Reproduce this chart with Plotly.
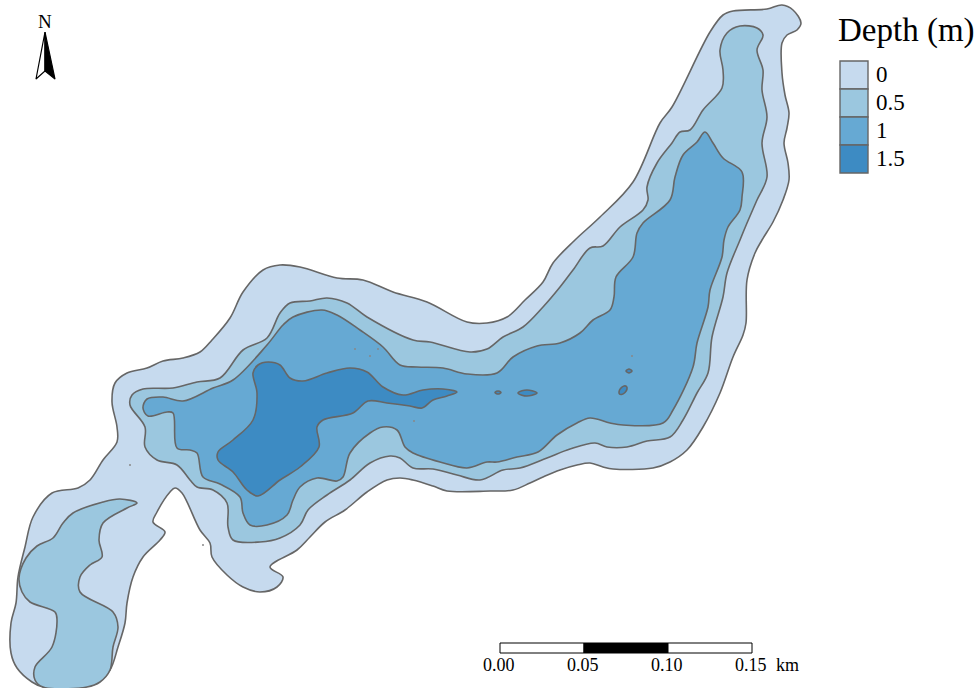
import plotly.graph_objects as go

# Contours, in image coordinates (x right, y down)
depth_0 = [
    (782, 5), (793, 10), (801, 23), (797, 30), (787, 35), (782, 43), (782, 73), (785, 95),
    (789, 113), (787, 128), (784, 143), (788, 163), (789, 180), (783, 200), (773, 222), (762, 240),
    (755, 253), (747, 280), (746, 323), (743, 335), (733, 357), (720, 393), (703, 427), (687, 450),
    (670, 462), (653, 468), (613, 469), (603, 467), (590, 463), (577, 465), (560, 470), (543, 477),
    (530, 483), (513, 490), (490, 491), (447, 491), (433, 486), (413, 480), (400, 478), (387, 480),
    (367, 492), (345, 510), (325, 522), (310, 537), (297, 550), (270, 567), (283, 577), (277, 587),
    (260, 592), (243, 587), (227, 575), (212, 557), (210, 543), (200, 530), (182, 493), (175, 488),
    (170, 492), (157, 512), (153, 522), (165, 532), (160, 540), (143, 557), (133, 577), (127, 603),
    (125, 623), (118, 647), (110, 670), (97, 683), (83, 687), (43, 687), (32, 682), (17, 668),
    (11, 653), (11, 623), (16, 603), (18, 577), (25, 547), (33, 517), (52, 493), (78, 488),
    (90, 480), (103, 460), (117, 442), (117, 427), (112, 402), (115, 383), (127, 373), (147, 368),
    (163, 361), (183, 358), (200, 352), (212, 340), (230, 318), (243, 292), (263, 270), (280, 265),
    (300, 267), (337, 278), (363, 280), (393, 292), (427, 302), (467, 322), (487, 323), (507, 317),
    (525, 300), (543, 282), (553, 263), (575, 240), (600, 217), (633, 182), (660, 123), (672, 107),
    (710, 32), (723, 15), (733, 11), (767, 9),
]

depth_05_main = [
    (740, 26), (757, 28), (763, 35), (757, 50), (763, 70), (762, 90), (767, 117), (762, 143),
    (767, 177), (757, 200), (747, 223), (740, 240), (727, 273), (723, 297), (712, 337), (708, 373),
    (697, 393), (683, 420), (670, 437), (647, 441), (627, 447), (607, 447), (595, 443), (570, 449),
    (547, 458), (520, 468), (503, 470), (480, 480), (457, 475), (433, 469), (413, 468), (400, 458),
    (390, 456), (370, 463), (350, 480), (327, 495), (308, 510), (300, 525), (280, 538), (260, 542),
    (233, 540), (228, 527), (227, 503), (213, 490), (197, 487), (190, 480), (177, 465), (157, 460),
    (145, 447), (145, 427), (130, 405), (132, 395), (143, 389), (173, 388), (197, 382), (220, 378),
    (243, 350), (267, 338), (280, 313), (290, 303), (310, 301), (327, 298), (347, 303), (367, 317),
    (413, 340), (430, 342), (470, 352), (487, 349), (503, 337), (523, 327), (543, 307), (560, 287),
    (573, 270), (590, 248), (603, 246), (620, 227), (643, 210), (648, 200), (647, 187), (657, 163),
    (672, 143), (680, 132), (690, 130), (703, 110), (722, 88), (723, 70), (720, 50), (727, 33),
]

depth_05_south = [
    (137, 503), (120, 499), (103, 502), (73, 513), (63, 523), (53, 538), (37, 546), (26, 558),
    (19, 578), (22, 592), (30, 602), (55, 612), (57, 620), (52, 647), (35, 667), (35, 680), (43, 687),
    (87, 687), (100, 682), (110, 670), (113, 647), (118, 627), (113, 612), (80, 592), (80, 577),
    (90, 565), (102, 557), (99, 540), (103, 523), (127, 508),
]

depth_1_main = [
    (705, 132), (713, 143), (723, 158), (742, 172), (742, 197), (740, 210), (728, 227), (724, 240),
    (722, 257), (710, 290), (708, 307), (697, 343), (693, 367), (673, 410), (663, 423), (623, 425),
    (610, 423), (590, 418), (577, 423), (557, 435), (538, 452), (517, 457), (497, 462), (487, 462),
    (467, 468), (440, 462), (413, 453), (405, 447), (397, 430), (383, 427), (370, 433), (350, 453),
    (343, 477), (337, 481), (317, 478), (300, 487), (293, 500), (287, 515), (267, 525), (250, 525),
    (243, 513), (240, 497), (220, 484), (203, 477), (197, 453), (190, 450), (177, 448), (173, 413),
    (167, 412), (148, 416), (143, 408), (147, 399), (163, 397), (183, 401), (213, 388), (233, 380),
    (267, 345), (283, 325), (293, 317), (322, 310), (337, 315), (360, 330), (383, 347), (400, 365),
    (417, 367), (443, 368), (467, 374), (497, 373), (513, 357), (537, 346), (560, 343), (580, 333),
    (593, 320), (610, 310), (614, 297), (616, 277), (633, 257), (637, 233), (643, 223), (670, 200),
    (675, 177), (683, 155), (697, 142),
]

depth_15_main = [
    (268, 362), (280, 365), (290, 378), (303, 381), (327, 373), (350, 368), (367, 372), (383, 387),
    (403, 395), (423, 390), (443, 389), (457, 392), (447, 396), (433, 400), (422, 408), (410, 406),
    (387, 403), (368, 401), (353, 413), (323, 420), (317, 427), (319, 447), (300, 467), (280, 480),
    (258, 496), (247, 490), (233, 472), (218, 460), (218, 452), (233, 440), (253, 420), (257, 393),
    (253, 373), (258, 365),
]

# Small deep patches down the middle of the lake
pool_a = [(495, 392.5), (496.5, 391.3), (498, 391), (499.5, 391.3), (501, 392.5), (499.5, 393.7), (498, 394), (496.5, 393.7)]
pool_b = [(518, 393), (522, 390.8), (527, 390), (532, 390.8), (537, 393), (532, 395.2), (527, 396), (522, 395.2)]
pool_c = [(626, 371), (627.5, 369.6), (629, 369), (630.5, 369.6), (632, 371), (630.5, 372.4), (629, 373), (627.5, 372.4)]
pool_d = [(619, 392), (620.5, 388.5), (624, 386), (626.5, 386.5), (627, 389), (625, 392.5), (621.5, 394.5), (619.5, 394)]

# Specks too small to show as outlines
speck_x = [632, 355, 378, 370, 414, 130, 203]
speck_y = [356, 349, 349, 356, 421, 465, 545]

legend_labels = ["0", "0.5", "1", "1.5"]
legend_colors = ["#C6DAEE", "#9BC7DF", "#66A9D3", "#3D8BC3"]
scale_km = [0.00, 0.05, 0.10, 0.15]
arrow_left = [(45, 32), (36, 79), (45, 71)]
arrow_right = [(45, 32), (55, 79), (45, 71)]

LINE = "#666666"
SERIF = "Liberation Serif"


def add_contour(fig, points, color):
    xs = [p[0] for p in points] + [points[0][0]]
    ys = [p[1] for p in points] + [points[0][1]]
    fig.add_trace(
        go.Scatter(
            x=xs,
            y=ys,
            mode="lines",
            fill="toself",
            fillcolor=color,
            line=dict(color=LINE, width=1.6, shape="spline", smoothing=1.0),
            hoverinfo="skip",
            showlegend=False,
        )
    )


fig = go.Figure()

# --- Lake, shallow to deep ---
add_contour(fig, depth_0, legend_colors[0])
add_contour(fig, depth_05_main, legend_colors[1])
add_contour(fig, depth_05_south, legend_colors[1])
add_contour(fig, depth_1_main, legend_colors[2])
add_contour(fig, depth_15_main, legend_colors[3])
for pool in [pool_a, pool_b, pool_c, pool_d]:
    add_contour(fig, pool, legend_colors[3])

fig.add_trace(
    go.Scatter(
        x=speck_x,
        y=speck_y,
        mode="markers",
        marker=dict(color="#888888", size=2),
        hoverinfo="skip",
        showlegend=False,
    )
)

# --- North arrow ---
for side, color in [(arrow_left, "white"), (arrow_right, "black")]:
    fig.add_trace(
        go.Scatter(
            x=[p[0] for p in side] + [side[0][0]],
            y=[p[1] for p in side] + [side[0][1]],
            mode="lines",
            fill="toself",
            fillcolor=color,
            line=dict(color="black", width=1.2),
            hoverinfo="skip",
            showlegend=False,
        )
    )
fig.add_annotation(x=45, y=21, text="N", showarrow=False, font=dict(family=SERIF, size=19, color="black"))

# --- Legend ---
fig.add_annotation(
    x=836, y=30, text="Depth (m)", showarrow=False, xanchor="left",
    font=dict(family=SERIF, size=33, color="black"),
)
for i, (label, color) in enumerate(zip(legend_labels, legend_colors)):
    top = 61 + i * 28
    fig.add_shape(
        type="rect", x0=840, x1=868, y0=top, y1=top + 28,
        fillcolor=color, line=dict(color=LINE, width=1.4),
    )
    fig.add_annotation(
        x=874, y=top + 13, text=label, showarrow=False, xanchor="left",
        font=dict(family=SERIF, size=23, color="black"),
    )

# --- Scale bar ---
km_px = [500 + km / scale_km[-1] * 252 for km in scale_km]
for i in range(len(scale_km) - 1):
    fig.add_shape(
        type="rect", x0=km_px[i], x1=km_px[i + 1], y0=643, y1=653,
        fillcolor="black" if i == 1 else "white", line=dict(color="black", width=1),
    )
for km, px_x in zip(scale_km, km_px):
    fig.add_annotation(
        x=px_x - 1, y=665, text=f"{km:.2f}", showarrow=False,
        font=dict(family=SERIF, size=18, color="black"),
    )
fig.add_annotation(x=787, y=665, text="km", showarrow=False, font=dict(family=SERIF, size=18, color="black"))

# --- Layout ---
fig.update_layout(
    width=975,
    height=688,
    margin=dict(t=0, b=0, l=0, r=0),
    plot_bgcolor="white",
    paper_bgcolor="white",
    xaxis=dict(range=[0, 975], visible=False),
    yaxis=dict(range=[688, 0], visible=False),
)

fig.write_html(
    "out.html",
    config=dict(displayModeBar=False),
    post_script="document.body.style.margin='0';document.body.style.overflow='hidden';",
)
